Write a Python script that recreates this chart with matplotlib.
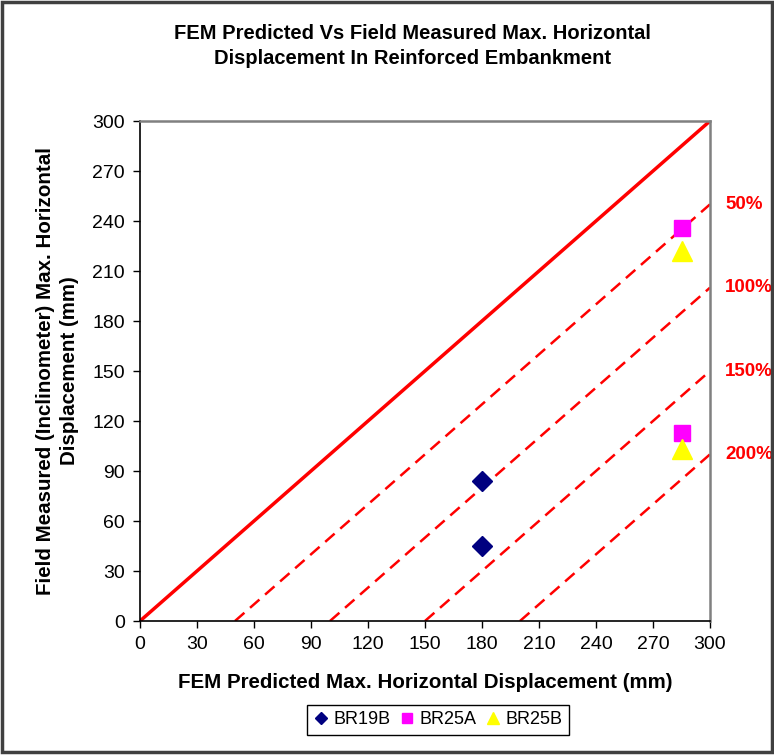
import matplotlib.pyplot as plt
from matplotlib.patches import Rectangle

plt.rcParams['font.family'] = ['Liberation Sans', 'DejaVu Sans']

# data
br19b_x = [180, 180]
br19b_y = [84, 45]
br25a_x = [285, 285]
br25a_y = [236, 113]
br25b_x = [285, 285]
br25b_y = [222, 103]
offsets = [50, 100, 150, 200]
offset_labels = ['50%', '100%', '150%', '200%']
ticks = list(range(0, 301, 30))

fig = plt.figure(figsize=(7.74, 7.55), dpi=100)
ax = fig.add_axes([140/774, 1-621/755, 570/774, 500/755])

# 1:1 line
ax.plot([0, 300], [0, 300], color='red', lw=2.5, solid_capstyle='butt', zorder=2)
# offset lines
for off, lab in zip(offsets, offset_labels):
    ax.plot([off, 300], [0, 300-off], color='red', lw=1.8, ls=(0, (5, 3)), zorder=2)
    ax.text(308, 300-off, lab, color='red', fontsize=13.5, fontweight='bold',
            va='center', ha='left', clip_on=False)

ax.plot(br19b_x, br19b_y, 'D', color='#000080', ms=10, ls='none', label='BR19B', zorder=3)
ax.plot(br25a_x, br25a_y, 's', color='#FF00FF', ms=12, ls='none', label='BR25A', zorder=3)
ax.plot(br25b_x, br25b_y, '^', color='#FFFF00', ms=14, ls='none', label='BR25B', zorder=3)

ax.set_xlim(0, 300)
ax.set_ylim(0, 300)
ax.set_xticks(ticks)
ax.set_yticks(ticks)
ax.tick_params(labelsize=14, direction='out', length=5, width=1, pad=6)
for s in ['top', 'right']:
    ax.spines[s].set_color('#808080')
    ax.spines[s].set_linewidth(1.8)
for s in ['left', 'bottom']:
    ax.spines[s].set_color('black')
    ax.spines[s].set_linewidth(1.2)

ax.set_xlabel('FEM Predicted Max. Horizontal Displacement (mm)', fontsize=14.8,
              fontweight='bold', labelpad=14)
ax.set_ylabel('Field Measured (Inclinometer) Max. Horizontal\nDisplacement (mm)',
              fontsize=14.8, fontweight='bold', labelpad=9, linespacing=1.35)

fig.text(412/774, 1-46/755, 'FEM Predicted Vs Field Measured Max. Horizontal\n'
         'Displacement In Reinforced Embankment', ha='center', va='center',
         fontsize=14.5, fontweight='bold', linespacing=1.35)

leg = fig.legend(loc='center', bbox_to_anchor=(438/774, 1-720/755), ncol=3,
                 fontsize=13, markerscale=0.6, handlelength=0.8, handletextpad=0.3,
                 columnspacing=0.5, fancybox=False, edgecolor='black',
                 borderpad=0.35, framealpha=1)
leg.get_frame().set_linewidth(1)

fig.patches.append(Rectangle((0.003, 0.004), 0.994, 0.993, transform=fig.transFigure,
                             fill=False, edgecolor='#404040', lw=2.5))

fig.savefig('out.png', dpi=100)
